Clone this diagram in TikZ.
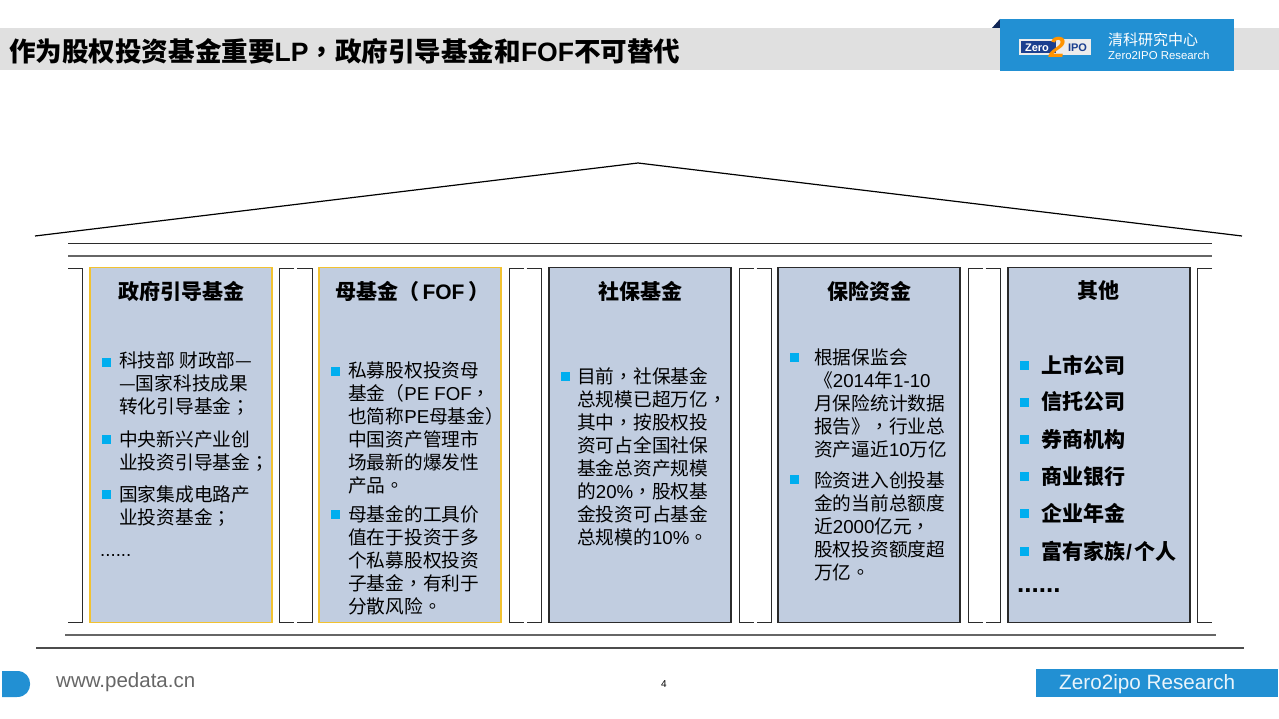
\documentclass[tikz,border=0pt]{standalone}
\usepackage{fontspec}
\setmainfont{Noto Sans CJK SC}
\newfontfamily\latinf{Liberation Sans}
\newfontfamily\tcf{Noto Sans CJK TC}
\newcommand\pc[1]{{\tcf #1}}
\newcommand\lat[1]{{\latinf #1}}
\definecolor{boxfill}{HTML}{C1CDE0}
\definecolor{gold}{HTML}{F2C230}
\definecolor{dark}{HTML}{2B2B2B}
\definecolor{zblue}{HTML}{2290D3}
\definecolor{bullet}{HTML}{00AEEF}
\definecolor{navy}{HTML}{1B3F8F}
\definecolor{band}{HTML}{E0E0E0}
\tikzset{
 panel/.style={draw=dark,line width=1.1pt,fill=boxfill},
 goldpanel/.style={draw=gold,line width=1.2pt,fill=boxfill},
 rule/.style={draw=dark,line width=0.9pt},
 head/.style={font=\fontsize{21}{25}\selectfont\bfseries,anchor=center,inner sep=0},
 body/.style={font=\fontsize{18.7}{23}\selectfont,anchor=north west,inner sep=0,align=left,text=black},
 strong/.style={font=\fontsize{21}{25}\selectfont\bfseries,anchor=west,inner sep=0},
 bul/.style={fill=bullet,minimum size=9pt,inner sep=0,anchor=center},
}
\begin{document}
\begin{tikzpicture}[x=1pt,y=-1pt]
\useasboundingbox (0,0) rectangle (1279,719);
% header
\fill[band] (0,28) rectangle (1279,70);
\fill[navy!60!black] (992,28) -- (1000,19) -- (1000,28) -- cycle;
\fill[zblue] (1000,19) rectangle (1234,71);
\node[font=\fontsize{26.55}{30}\selectfont\bfseries,anchor=west,inner sep=0] (title) at (9,51) {作为股权投资基金重要\lat{LP}\pc{，}政府引导基金和\lat{FOF}不可替代};
\fill[white!85!gray] (1019,39.5) rectangle (1091,55);
\fill[navy] (1021,41) rectangle (1056,53.5);
\node[font=\fontsize{11}{12}\selectfont\bfseries\latinf,text=white,inner sep=0] (zero) at (1037,47.5) {Zero};
\node[font=\fontsize{11}{12}\selectfont\bfseries\latinf,text=navy,inner sep=0] (ipo) at (1077.5,47.5) {IPO};
\node[font=\fontsize{29}{30}\selectfont\bfseries\itshape\latinf,text=orange!85!yellow,inner sep=0] (two) at (1057,47.5) {2};
\node[font=\fontsize{15}{16}\selectfont,text=white,anchor=west,inner sep=0] (cn) at (1108,40) {清科研究中心};
\node[font=\fontsize{11.4}{14}\selectfont\latinf,text=white,anchor=west,inner sep=0] (en) at (1108,55) {Zero2IPO Research};
% roof
\coordinate (rl) at (35,236); \coordinate (rt) at (638,163); \coordinate (rr) at (1242,236);
\draw[black,line width=1.2pt] (rl) -- (rt) -- (rr);
\draw[rule] (68,243.5) -- (1212,243.5);
\draw[rule,draw=black!60,line width=1.2pt] (68,256) -- (1212,256);
\draw[rule,draw=black!60,line width=1.2pt] (65,635) -- (1216,635);
\draw[rule,draw=black!70,line width=1.1pt] (36,648) -- (1244,648);
% columns between
\draw[rule] (68,268) -- (82,268) -- (82,622) -- (68,622);
\foreach \a/\b in {279/312,509/541,739/771,968/1000}{
  \draw[rule] ({(\a+\b)/2-1.5},268) -- (\a,268) -- (\a,622) -- ({(\a+\b)/2-1.5},622);
  \draw[rule] ({(\a+\b)/2+1.5},268) -- (\b,268) -- (\b,622) -- ({(\a+\b)/2+1.5},622);
}
\draw[rule] (1212,268) -- (1197,268) -- (1197,622) -- (1212,622);
% panels
\draw[goldpanel] (90,267.5) rectangle (272,622.5);
\draw[goldpanel] (319,267.5) rectangle (501,622.5);
\draw[panel] (549,267.5) rectangle (731,622.5);
\draw[panel] (778,267.5) rectangle (960,622.5);
\draw[panel] (1008,267.5) rectangle (1190,622.5);
\node[head] (h1) at (181,291) {政府引导基金};
\node[head] (h2) at (412,291) {母基金\pc{（}\lat{\,FOF\,}\pc{）}};
\node[head] (h3) at (640,291) {社保基金};
\node[head] (h4) at (869,291) {保险资金};
\node[head] (h5) at (1098,291) {其他};
% col 1
\node[bul] (b11) at (106,362) {};
\node[body] (t11) at (119,352) {科技部 财政部—\\—国家科技成果\\转化引导基金\pc{；}};
\node[bul] (b12) at (106,439) {};
\node[body] (t12) at (119,431) {中央新兴产业创\\业投资引导基金\pc{；}};
\node[bul] (b13) at (106,494) {};
\node[body] (t13) at (119,485) {国家集成电路产\\业投资基金\pc{；}};
\node[body] (t14) at (100,554) {\lat{......}};
% col 2
\node[bul] (b21) at (335,371) {};
\node[body] (t21) at (348,362) {私募股权投资母\\基金\pc{（}\lat{PE FOF}\pc{，}\\也简称\lat{PE}母基金\pc{）}\\中国资产管理市\\场最新的爆发性\\产品\pc{。}};
\node[bul] (b22) at (335,514) {};
\node[body] (t22) at (348,505) {母基金的工具价\\值在于投资于多\\个私募股权投资\\子基金\pc{，}有利于\\分散风险\pc{。}};
% col 3
\node[bul] (b31) at (565,376) {};
\node[body] (t31) at (577,367) {目前\pc{，}社保基金\\总规模已超万亿\pc{，}\\其中\pc{，}按股权投\\资可占全国社保\\基金总资产规模\\的\lat{20\%}\pc{，}股权基\\金投资可占基金\\总规模的\lat{10\%}\pc{。}};
% col 4
\node[bul] (b41) at (794,357) {};
\node[body] (t41) at (814,349) {根据保监会\\《\lat{2014}年\lat{1-10}\\月保险统计数据\\报告》\pc{，}行业总\\资产逼近\lat{10}万亿};
\node[bul] (b42) at (794,479) {};
\node[body] (t42) at (814,471) {险资进入创投基\\金的当前总额度\\近\lat{2000}亿元\pc{，}\\股权投资额度超\\万亿\pc{。}};
% col 5
\foreach \n/\y/\t in {1/365/{上市公司},2/402/{信托公司},3/439/{券商机构},4/476/{商业银行},5/513/{企业年金},6/551/{富有家族\lat{\kern1pt/\kern2pt}个人}}{
  \node[bul] (b5\n) at (1024,\y) {};
  \node[strong] (t5\n) at (1041,\y) {\t};
}
\node[strong,font=\fontsize{26}{27}\selectfont\bfseries] (t57) at (1017,591) {\lat{......}};
% footer
\fill[zblue] (2,671) -- (17,671) .. controls (34.5,671) and (34.5,697) .. (17,697) -- (2,697) -- cycle;
\node[font=\fontsize{20.5}{24}\selectfont\latinf,text=black!60,anchor=west,inner sep=0] (web) at (56,682) {www.pedata.cn};
\fill[zblue] (1036,669) rectangle (1278,697);
\node[font=\fontsize{20.7}{24}\selectfont\latinf,text=white!90!zblue,anchor=west,inner sep=0] (zr) at (1059,684) {Zero2ipo Research};
\node[font=\fontsize{10}{12}\selectfont\latinf,text=black,inner sep=0] (pg) at (664,684) {4};
\end{tikzpicture}
\end{document}
